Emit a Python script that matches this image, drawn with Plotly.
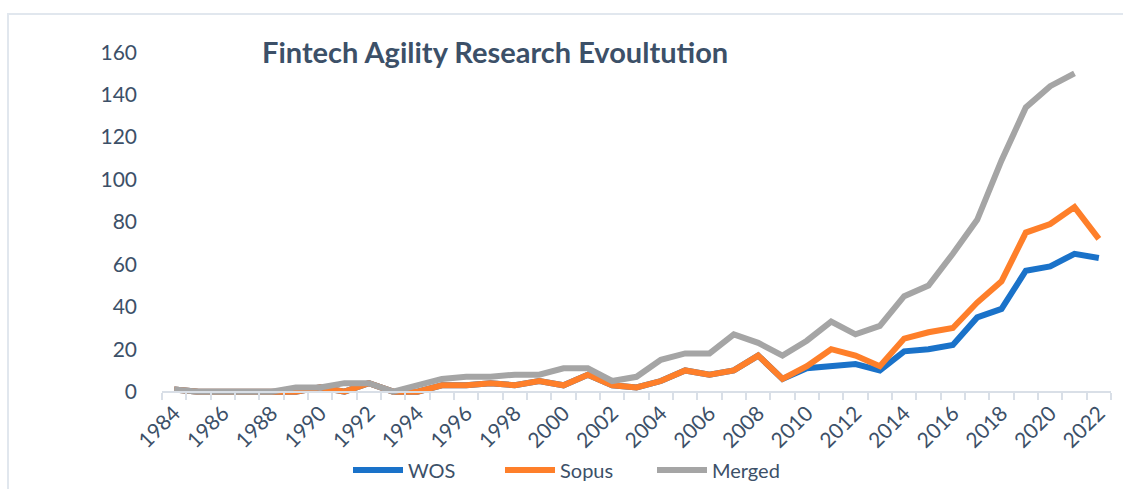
import plotly.graph_objects as go

years = [str(y) for y in range(1984, 2023)]

wos = [1, 0, 0, 0, 0, 0, 2, 0, 4, 0, 0, 3, 3, 4, 3, 5, 3, 8, 3, 2,
       5, 10, 8, 10, 17, 6, 11, 12, 13, 10, 19, 20, 22, 35, 39, 57, 59, 65, 63]
sopus = [1, 0, 0, 0, 0, 0, 2, 0, 4, 0, 0, 3, 3, 4, 3, 5, 3, 8, 3, 2,
         5, 10, 8, 10, 17, 6, 12, 20, 17, 12, 25, 28, 30, 42, 52, 75, 79, 87, 72]
merged = [1, 0, 0, 0, 0, 2, 2, 4, 4, 0, 3, 6, 7, 7, 8, 8, 11, 11, 5, 7,
          15, 18, 18, 27, 23, 17, 24, 33, 27, 31, 45, 50, 65, 81, 109, 134, 144, 150, None]

tick_labels = [y if int(y) % 2 == 0 else "" for y in years]

text_color = "#3C5068"
font_family = "Lato"

fig = go.Figure()
for name, vals, color in [("WOS", wos, "#1A72C9"),
                          ("Sopus", sopus, "#FE7F2A"),
                          ("Merged", merged, "#A5A5A5")]:
    fig.add_trace(go.Scatter(x=years, y=vals, name=name, mode="lines",
                             line=dict(color=color, width=6),
                             connectgaps=False))

ymin, ymax = -3, 162
fig.update_layout(
    width=1123, height=489,
    margin=dict(l=162, r=12, t=48, b=91, autoexpand=False),
    paper_bgcolor="white", plot_bgcolor="white",
    font=dict(family=font_family, color=text_color, size=21),
    title=dict(text="<b>Fintech Agility Research Evoultution</b>",
               x=262 / 1123, xanchor="left", xref="container",
               y=1 - 53 / 489, yanchor="middle", yref="container",
               font=dict(size=29, color=text_color, family=font_family)),
    showlegend=True,
    legend=dict(orientation="h", x=(407 - 59) / 1123, xanchor="left", xref="container",
                y=1 - 470 / 489, yanchor="middle", yref="container",
                font=dict(size=20, color=text_color), entrywidth=87,
                itemwidth=50, bgcolor="rgba(0,0,0,0)"),
    xaxis=dict(type="category", categoryorder="array", categoryarray=years,
               range=[-0.5, len(years) - 0.5],
               tickvals=years, ticktext=tick_labels, tickangle=-45,
               tickson="boundaries", ticks="outside", ticklen=7,
               tickcolor="#D9DFE7", tickwidth=2,
               showline=True, linecolor="#D9DFE7", linewidth=2,
               showgrid=False, zeroline=False, automargin=False,
               anchor="free", position=(0 - ymin) / (ymax - ymin),
               tickfont=dict(size=21, color=text_color)),
    yaxis=dict(range=[ymin, ymax], tickvals=list(range(0, 161, 20)),
               showgrid=False, zeroline=False, showline=False,
               ticks="", ticklabelstandoff=24, automargin=False,
               tickfont=dict(size=21, color=text_color)),
    shapes=[dict(type="rect", xref="paper", yref="paper",
                 x0=(8 - 162) / 949, x1=1.2, y0=-0.6, y1=(398 - 14) / 350,
                 line=dict(color="#E1E7EE", width=2), layer="below")],
)

fig.write_html("out.html", config={"displayModeBar": False},
               post_script="document.body.style.margin='0';document.body.style.overflow='hidden';")
